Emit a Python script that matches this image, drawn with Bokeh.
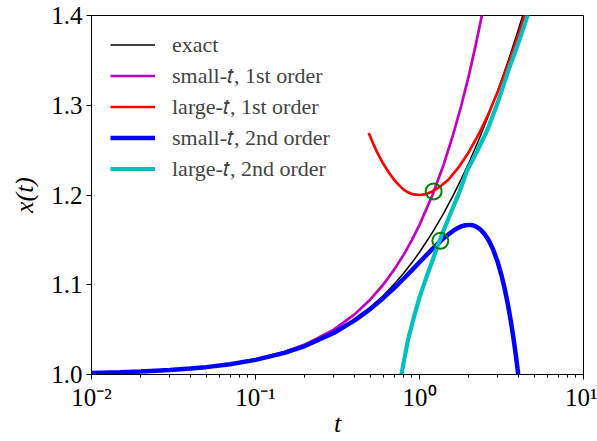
from bokeh.plotting import figure
from bokeh.models import FixedTicker, Legend, LegendItem, Range1d, PrintfTickFormatter
from bokeh.embed import file_html
from bokeh.resources import INLINE

# ---- data ----
t_exact = [0.01, 0.015, 0.02, 0.03, 0.04, 0.05, 0.07, 0.1, 0.15, 0.2, 0.3, 0.4, 0.5, 0.6, 0.7,
           0.8, 0.9, 1.0, 1.2, 1.4, 1.6, 1.8, 2.0, 2.3, 2.6, 3.0, 3.5, 4.0, 4.5, 5.0]
x_exact = [1.0017, 1.0025, 1.0033, 1.0050, 1.0066, 1.0083, 1.0115, 1.0164, 1.0241, 1.0317,
           1.0466, 1.0610, 1.0746, 1.0878, 1.1005, 1.1128, 1.1247, 1.1362, 1.1583, 1.1792,
           1.1990, 1.2179, 1.2359, 1.2616, 1.2858, 1.3161, 1.3512, 1.3838, 1.4142, 1.4428]

t_small1 = [0.01, 0.015, 0.02, 0.03, 0.04, 0.05, 0.07, 0.1, 0.15, 0.2, 0.3, 0.4, 0.5, 0.6, 0.7,
            0.8, 0.9, 1.0, 1.2, 1.4, 1.6, 1.8, 2.0, 2.2, 2.4, 2.6]
x_small1 = [1.0017, 1.0025, 1.0033, 1.0050, 1.0067, 1.0083, 1.0117, 1.0167, 1.0250, 1.0333,
            1.0500, 1.0667, 1.0833, 1.1000, 1.1167, 1.1333, 1.1500, 1.1667, 1.2000, 1.2333,
            1.2667, 1.3000, 1.3333, 1.3667, 1.4000, 1.4333]

t_large1 = [0.49, 0.52, 0.55, 0.6, 0.65, 0.7, 0.75, 0.8, 0.85, 0.9, 0.95, 1.0, 1.1, 1.2, 1.35,
            1.5, 1.75, 2.0, 2.3, 2.6, 3.0, 3.5, 4.0, 4.5, 5.0]
x_large1 = [1.269, 1.258, 1.248, 1.235, 1.225, 1.217, 1.211, 1.206, 1.203, 1.201, 1.2005,
            1.200, 1.201, 1.204, 1.210, 1.217, 1.232, 1.248, 1.268, 1.288, 1.315, 1.347,
            1.378, 1.407, 1.434]

t_small2 = [0.01, 0.015, 0.02, 0.03, 0.04, 0.05, 0.07, 0.1, 0.15, 0.2, 0.3, 0.4, 0.5, 0.6, 0.7,
            0.8, 0.9, 1.0, 1.2, 1.4, 1.6, 1.7, 1.8, 1.9, 2.0, 2.1, 2.2, 2.35, 2.5, 2.65, 2.8,
            3.0, 3.15, 3.3, 3.45, 3.6, 3.7, 3.8, 3.9, 4.0, 4.1]
x_small2 = [1.0017, 1.0025, 1.0033, 1.0050, 1.0066, 1.0082, 1.0115, 1.0163, 1.0241, 1.0317,
            1.0463, 1.0600, 1.0729, 1.0850, 1.0963, 1.1067, 1.1163, 1.1250, 1.1400, 1.1517,
            1.1600, 1.1629, 1.1650, 1.1663, 1.1667, 1.1663, 1.1650, 1.1616, 1.1563, 1.1491,
            1.1400, 1.1250, 1.1116, 1.0963, 1.0791, 1.0600, 1.0463, 1.0317, 1.0163, 1.0000,
            0.9829]

t_large2 = [0.76, 0.776, 0.8, 0.85, 0.92, 1.0, 1.1, 1.2, 1.31, 1.45, 1.6, 1.75, 1.95, 2.25,
            2.6, 3.0, 3.5, 4.0, 4.6, 5.0]
x_large2 = [0.991, 1.000, 1.013, 1.038, 1.0625, 1.086, 1.108, 1.127, 1.147, 1.167, 1.186,
            1.203, 1.227, 1.249, 1.273, 1.303, 1.340, 1.369, 1.402, 1.429]

circle_t = [1.22, 1.34]
circle_x = [1.204, 1.149]

x_tick_vals = [0.01, 0.1, 1, 10]
x_tick_labels = ["10\u207b\u00b2", "10\u207b\u00b9", "10\u2070", "10\u00b9"]
y_tick_vals = [1.0, 1.1, 1.2, 1.3, 1.4]

legend_labels = ["exact", "small-\U0001D461, 1st order", "large-\U0001D461, 1st order",
                 "small-\U0001D461, 2nd order", "large-\U0001D461, 2nd order"]

SERIF = "Liberation Serif"

p = figure(width=597, height=441, x_axis_type="log",
           x_range=Range1d(0.01, 10), y_range=Range1d(1.0, 1.4),
           output_backend="svg", toolbar_location=None,
           min_border_left=91, min_border_right=14, min_border_top=15, min_border_bottom=67)

p.background_fill_color = "white"
p.border_fill_color = "white"
p.outline_line_color = "black"
p.outline_line_width = 1
p.xgrid.visible = False
p.ygrid.visible = False

minor = [k * 10.0 ** e for e in (-2, -1, 0) for k in range(2, 10)]
p.xaxis.ticker = FixedTicker(ticks=x_tick_vals, minor_ticks=minor)
p.xaxis.major_label_overrides = dict(zip(x_tick_vals, x_tick_labels))
p.yaxis.ticker = FixedTicker(ticks=y_tick_vals, minor_ticks=[])
p.yaxis.formatter = PrintfTickFormatter(format="%.1f")

for ax in (p.xaxis, p.yaxis):
    ax.axis_line_color = "black"
    ax.major_tick_line_color = "black"
    ax.minor_tick_line_color = "black"
    ax.major_tick_out = 5
    ax.major_tick_in = 0
    ax.minor_tick_out = 3
    ax.minor_tick_in = 0
    ax.major_label_text_font = SERIF
    ax.major_label_text_font_size = "25px"
    ax.major_label_text_color = "black"
    ax.major_label_text_line_height = 1.0
    ax.axis_label_text_font = SERIF
    ax.axis_label_text_font_size = "26px"
    ax.axis_label_text_font_style = "italic"
    ax.axis_label_text_color = "black"
    ax.axis_label_text_line_height = 1.0

p.xaxis.axis_label = "t"
p.yaxis.axis_label = "x(t)"
p.xaxis.major_label_standoff = 4
p.xaxis.axis_label_standoff = -5
p.yaxis.major_label_standoff = 4
p.yaxis.axis_label_standoff = 9

r0 = p.line(t_exact, x_exact, line_color="black", line_width=1.5)
r1 = p.line(t_small1, x_small1, line_color="#bf00bf", line_width=2.7)
r2 = p.line(t_large1, x_large1, line_color="#ff0000", line_width=2.7)
r3 = p.line(t_small2, x_small2, line_color="#0000ff", line_width=4.5)
r4 = p.line(t_large2, x_large2, line_color="#00bfbf", line_width=4.2)
p.scatter(circle_t, circle_x, marker="circle", size=16, fill_color=None,
          line_color="#008000", line_width=2)

items = [LegendItem(label=lab, renderers=[r]) for lab, r in zip(legend_labels, [r0, r1, r2, r3, r4])]
legend = Legend(items=items, location=(19, 190), padding=0, margin=0, spacing=0,
                glyph_width=45, glyph_height=31, label_height=31, label_standoff=17,
                label_text_font=SERIF, label_text_font_size="22px",
                border_line_alpha=0, background_fill_alpha=0)
p.add_layout(legend)

open("out.html", "w").write(file_html(p, INLINE))
